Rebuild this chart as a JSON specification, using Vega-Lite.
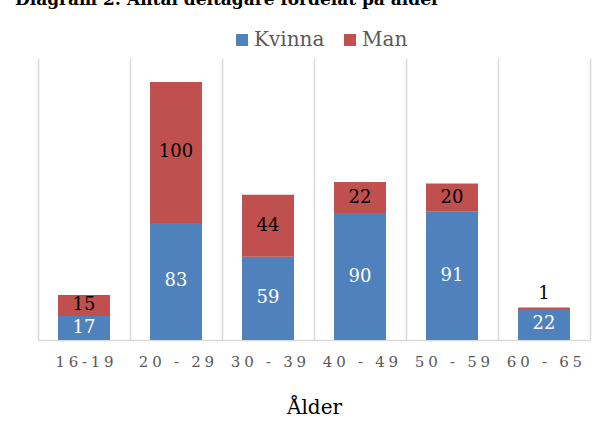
{
  "$schema": "https://vega.github.io/schema/vega-lite/v6.json",
  "width": 552,
  "height": 282,
  "autosize": {"type": "none"},
  "padding": {"left": 38, "top": 58, "right": 23, "bottom": 85},
  "background": "white",
  "config": {"view": {"stroke": null}, "font": "DejaVu Serif"},
  "title": {
    "text": "Diagram 2: Antal deltagare fördelat på ålder",
    "anchor": "start",
    "frame": "group",
    "fontSize": 17,
    "fontWeight": "bold",
    "font": "DejaVu Serif",
    "color": "black",
    "dx": -23,
    "dy": 16,
    "offset": 24,
    "baseline": "alphabetic"
  },
  "data": {
    "values": [
      {"age": "16-19", "gender": "Kvinna", "value": 17},
      {"age": "16-19", "gender": "Man", "value": 15},
      {"age": "20 - 29", "gender": "Kvinna", "value": 83},
      {"age": "20 - 29", "gender": "Man", "value": 100},
      {"age": "30 - 39", "gender": "Kvinna", "value": 59},
      {"age": "30 - 39", "gender": "Man", "value": 44},
      {"age": "40 - 49", "gender": "Kvinna", "value": 90},
      {"age": "40 - 49", "gender": "Man", "value": 22},
      {"age": "50 - 59", "gender": "Kvinna", "value": 91},
      {"age": "50 - 59", "gender": "Man", "value": 20},
      {"age": "60 - 65", "gender": "Kvinna", "value": 22},
      {"age": "60 - 65", "gender": "Man", "value": 1}
    ]
  },
  "transform": [
    {"stack": "value", "groupby": ["age"], "sort": [{"field": "gender", "order": "ascending"}], "as": ["v0", "v1"]},
    {"calculate": "(datum.v0 + datum.v1) / 2", "as": "mid"}
  ],
  "encoding": {
    "x": {
      "field": "age",
      "type": "nominal",
      "sort": null,
      "scale": {"paddingInner": 0, "paddingOuter": 0},
      "axis": {
        "title": "Ålder",
        "titleFont": "DejaVu Serif",
        "titleFontSize": 20,
        "titleFontWeight": "normal",
        "titleColor": "black",
        "titlePadding": 28,
        "labelAngle": 0,
        "labelFont": "DejaVu Serif",
        "labelFontSize": 15,
        "labelColor": "#595959",
        "labelPadding": 14,
        "labelExpr": "replace(datum.label, regexp('(.)(?=.)', 'g'), '$1\u2005')",
        "ticks": false,
        "domainColor": "#d9d9d9",
        "domainWidth": 1.5,
        "grid": true,
        "gridColor": "#d9d9d9",
        "gridWidth": 1.5,
        "tickBand": "extent"
      }
    }
  },
  "layer": [
    {
      "mark": {"type": "bar", "width": {"band": 0.565}},
      "encoding": {
        "y": {"field": "v0", "type": "quantitative", "scale": {"domain": [0, 200]}, "axis": null},
        "y2": {"field": "v1"},
        "color": {
          "field": "gender",
          "type": "nominal",
          "scale": {"domain": ["Kvinna", "Man"], "range": ["#4F81BD", "#C0504D"]},
          "legend": {
            "title": null,
            "orient": "none",
            "legendX": 194,
            "legendY": -28,
            "direction": "horizontal",
            "symbolType": "square",
            "symbolSize": 144,
            "symbolStrokeWidth": 0,
            "labelFont": "DejaVu Serif",
            "labelFontSize": 20,
            "labelColor": "#595959",
            "labelOffset": 2,
            "columnPadding": 15
          }
        }
      }
    },
    {
      "transform": [{"filter": "datum.value >= 5"}],
      "mark": {"type": "text", "fontSize": 18, "baseline": "middle", "font": "DejaVu Serif"},
      "encoding": {
        "y": {"field": "mid", "type": "quantitative"},
        "text": {"field": "value", "type": "quantitative"},
        "color": {"condition": {"test": "datum.gender === 'Kvinna'", "value": "white"}, "value": "black"}
      }
    },
    {
      "transform": [{"filter": "datum.value < 5"}],
      "mark": {"type": "text", "fontSize": 18, "baseline": "alphabetic", "dy": -9, "font": "DejaVu Serif", "color": "black"},
      "encoding": {
        "y": {"field": "v1", "type": "quantitative"},
        "text": {"field": "value", "type": "quantitative"}
      }
    }
  ]
}
